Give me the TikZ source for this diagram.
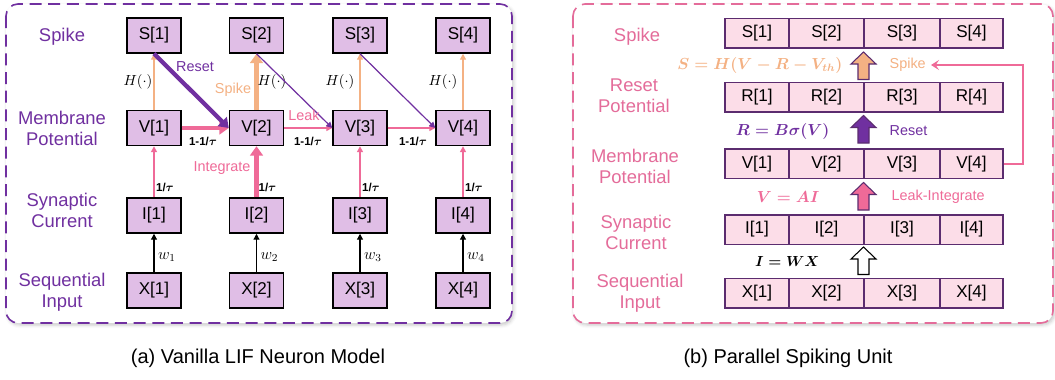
\documentclass[tikz,border=0pt]{standalone}
\usepackage[no-math]{fontspec}
\setmainfont{Liberation Sans}
\usetikzlibrary{arrows.meta,shadows.blur}

\definecolor{lifpurple}{HTML}{7030A0}
\definecolor{boxlav}{HTML}{E0BEE6}
\definecolor{spikeorange}{HTML}{F4B183}
\definecolor{leakpink}{HTML}{EF6A98}
\definecolor{labelpink}{HTML}{E46C9A}
\definecolor{stripfill}{HTML}{FCDDE8}
\definecolor{stripedge}{HTML}{5B2C6F}

\newcommand{\btau}{{\boldmath$\tau$}}

\begin{document}
\begin{tikzpicture}[x=0.75pt,y=-0.75pt,
  panel/.style={dashed, dash pattern=on 9pt off 5pt, line width=1.2pt, rounded corners=9pt,
    fill=white, blur shadow={shadow xshift=1.2pt, shadow yshift=-1.5pt, shadow blur radius=2.5pt, shadow opacity=22}},
  rowlabel/.style={align=center, font=\fontsize{13.8}{15.8}\selectfont},
  lifbox/.style={draw=black, line width=1.1pt, fill=boxlav, minimum width=40.5pt,
    minimum height=26.25pt, inner sep=0pt, font=\fontsize{12.8}{15}\selectfont},
  cell/.style={draw=stripedge, line width=1pt, fill=stripfill, minimum height=22pt,
    inner sep=0pt, font=\fontsize{12.8}{15}\selectfont},
  thinarr/.style={line width=0.9pt, -{Triangle[length=4.5pt,width=4.5pt]}},
  thickarr/.style={line width=3.2pt, -{Triangle[length=7pt,width=9.5pt]}},
  small/.style={font=\fontsize{10.8}{12}\selectfont},
  wlabel/.style={font=\fontsize{12}{14}\selectfont},
  coef/.style={font=\fontsize{8.6}{10}\selectfont\bfseries},
  eqn/.style={font=\fontsize{12}{14}\selectfont\boldmath, anchor=east},
  caption/.style={font=\fontsize{15}{18}\selectfont},
  barrow/.pic={\path[pic actions] (0,0) -- (12.5,12) -- (5.5,12) -- (5.5,27.5)
    -- (-5.5,27.5) -- (-5.5,12) -- (-12.5,12) -- cycle;}
]
\useasboundingbox (0,0) rectangle (1055,379);

% ---------- panel frames ----------
\draw[panel, draw=lifpurple] (6,4) rectangle (512,323);
\draw[panel, draw=labelpink] (573,4) rectangle (1053,323);

% ---------- (a) vanilla LIF neuron ----------
\node[rowlabel, text=lifpurple] (aSpike) at (62,37) {Spike};
\node[rowlabel, text=lifpurple] (aMem) at (62,128) {Membrane\\Potential};
\node[rowlabel, text=lifpurple] (aSyn) at (62,210.5) {Synaptic\\Current};
\node[rowlabel, text=lifpurple] (aSeq) at (62,292) {Sequential\\Input};

\foreach \i/\x in {1/154,2/256.5,3/360,4/463} {
  \node[lifbox] (S\i) at (\x,35.5) {S[\i]};
  \node[lifbox] (V\i) at (\x,128) {V[\i]};
  \node[lifbox] (I\i) at (\x,215.5) {I[\i]};
  \node[lifbox] (X\i) at (\x,290.5) {X[\i]};
  \draw[thinarr, black] (X\i.north) -- (I\i.south);
  \node[wlabel] (w\i) at (\x+13,257) {$w_{\i}$};
  \node[coef] (it\i) at (\x+11,187) {1/\btau};
}

% threshold (spike) connections
\foreach \i in {1,3,4} {
  \draw[thinarr, spikeorange] (V\i.north) -- (S\i.south);
  \draw[thinarr, leakpink, line width=1.1pt] (I\i.north) -- (V\i.south);
}
\draw[thickarr, spikeorange, line width=3.6pt] (V2.north) -- (S2.south);
\draw[thickarr, leakpink, line width=3.6pt] (I2.north) -- (V2.south);

\node[small] (h1) at (138,82) {$H(\cdot)$};
\node[small] (h2) at (272,82) {$H(\cdot)$};
\node[small] (h3) at (340,82) {$H(\cdot)$};
\node[small] (h4) at (443,82) {$H(\cdot)$};

% leak connections between time steps
\draw[thickarr, leakpink] (V1.east) -- (V2.west);
\draw[thinarr, leakpink, line width=1.1pt] (V2.east) -- (V3.west);
\draw[thinarr, leakpink, line width=1.1pt] (V3.east) -- (V4.west);
\node[coef] (lk1) at (203,141) {1-1/\btau};
\node[coef] (lk2) at (308,141) {1-1/\btau};
\node[coef] (lk3) at (413,141) {1-1/\btau};

% reset connections
\draw[thickarr, lifpurple] (S1.south) -- (V2.west);
\draw[thinarr, lifpurple] (S2.south) -- (V3.west);
\draw[thinarr, lifpurple] (S3.south) -- (V4.west);

\node[small, text=lifpurple] (lReset) at (195,67) {Reset};
\node[small, text=spikeorange] (lSpike) at (233,90) {Spike};
\node[small, text=leakpink] (lLeak) at (304,115) {Leak};
\node[small, text=leakpink] (lInt) at (222,168) {Integrate};

\node[caption] (capA) at (258,358) {(a) Vanilla LIF Neuron Model};

% ---------- (b) parallel spiking unit ----------
\node[rowlabel, text=labelpink] (bSpike) at (637,37) {Spike};
\node[rowlabel, text=labelpink] (bRes) at (634,95.5) {Reset\\Potential};
\node[rowlabel, text=labelpink] (bMem) at (635,166) {Membrane\\Potential};
\node[rowlabel, text=labelpink] (bSyn) at (636,232) {Synaptic\\Current};
\node[rowlabel, text=labelpink] (bSeq) at (640,293.5) {Sequential\\Input};

\foreach \i/\c/\w in {1/757/64,2/826.5/75,3/902/76,4/971.5/63} {
  \node[cell, minimum width=\w*0.75pt] (pS\i) at (\c,33.3) {S[\i]};
  \node[cell, minimum width=\w*0.75pt] (pR\i) at (\c,97.2) {R[\i]};
  \node[cell, minimum width=\w*0.75pt] (pV\i) at (\c,163.7) {V[\i]};
  \node[cell, minimum width=\w*0.75pt] (pI\i) at (\c,229.5) {I[\i]};
  \node[cell, minimum width=\w*0.75pt] (pX\i) at (\c,293.3) {X[\i]};
}

% block arrows between the parallel stages
\pic[fill=spikeorange, draw=stripedge, line width=0.8pt] at (863.5,52) {barrow};
\pic[fill=lifpurple, draw=stripedge, line width=0.8pt] at (863.5,115.5) {barrow};
\pic[fill=leakpink, draw=stripedge, line width=0.8pt] at (863.5,182.5) {barrow};
\pic[fill=white, draw=black, line width=0.8pt] at (863.5,247) {barrow};

\node[eqn, text=spikeorange] (eqS) at (847,65) {$S = H(V - R - V_{th})$};
\node[eqn, text=lifpurple] (eqR) at (834,131) {$R = B\sigma(V)$};
\node[eqn, text=leakpink] (eqV) at (824,197) {$V = AI$};
\node[eqn, text=black, font=\fontsize{10.5}{12}\selectfont\boldmath] (eqI) at (824,261) {$I = WX$};

\node[small, anchor=west, text=spikeorange] (rSpike) at (885,65) {Spike};
\node[small, anchor=west, text=lifpurple] (rReset) at (885,131) {Reset};
\node[small, anchor=west, text=leakpink] (rLI) at (887,197) {Leak-Integrate};

% spike feedback from the membrane potential
\coordinate (fbTop) at (1023,65);
\coordinate (fbEnd) at (931,65);
\draw[leakpink, line width=1.4pt, -{Stealth[length=6pt,width=7.5pt,inset=2.5pt]}]
  (pV4.east) -| (fbTop) -- (fbEnd);

\node[caption] (capB) at (788,358) {(b) Parallel Spiking Unit};
\end{tikzpicture}
\end{document}
